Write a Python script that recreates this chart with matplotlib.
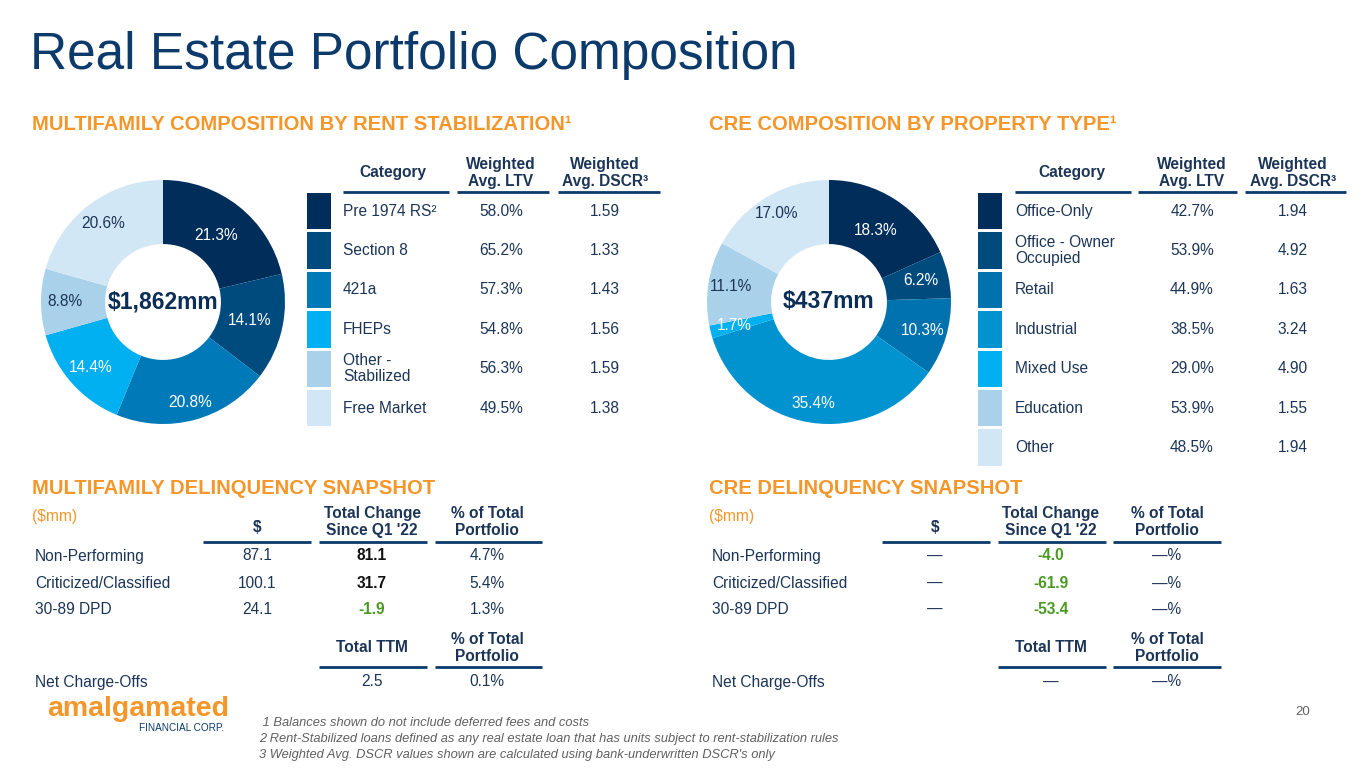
import matplotlib
matplotlib.use("Agg")
import matplotlib.pyplot as plt
from matplotlib.patches import Rectangle
import numpy as np

plt.rcParams['font.family'] = ['Liberation Sans', 'DejaVu Sans']

# ---------------- data ----------------
title = "Real Estate Portfolio Composition"

mf_categories = ["Pre 1974 RS\u00b2", "Section 8", "421a", "FHEPs", "Other -\nStabilized", "Free Market"]
mf_share = [21.3, 14.1, 20.8, 14.4, 8.8, 20.6]
mf_ltv = ["58.0%", "65.2%", "57.3%", "54.8%", "56.3%", "49.5%"]
mf_dscr = ["1.59", "1.33", "1.43", "1.56", "1.59", "1.38"]
mf_total = "$1,862mm"

cre_categories = ["Office-Only", "Office - Owner\nOccupied", "Retail", "Industrial", "Mixed Use", "Education", "Other"]
cre_share = [18.3, 6.2, 10.3, 35.4, 1.7, 11.1, 17.0]
cre_ltv = ["42.7%", "53.9%", "44.9%", "38.5%", "29.0%", "53.9%", "48.5%"]
cre_dscr = ["1.94", "4.92", "1.63", "3.24", "4.90", "1.55", "1.94"]
cre_total = "$437mm"

delinq_rows = ["Non-Performing", "Criticized/Classified", "30-89 DPD"]
mf_delinq_amt = ["87.1", "100.1", "24.1"]
mf_delinq_chg = [81.1, 31.7, -1.9]
mf_delinq_pct = ["4.7%", "5.4%", "1.3%"]
mf_nco_ttm = "2.5"
mf_nco_pct = "0.1%"

cre_delinq_amt = ["\u2014", "\u2014", "\u2014"]
cre_delinq_chg = [-4.0, -61.9, -53.4]
cre_delinq_pct = ["\u2014%", "\u2014%", "\u2014%"]
cre_nco_ttm = "\u2014"
cre_nco_pct = "\u2014%"

footnotes = [" 1 Balances shown do not include deferred fees and costs",
             "2 Rent-Stabilized loans defined as any real estate loan that has units subject to rent-stabilization rules",
             "3 Weighted Avg. DSCR values shown are calculated using bank-underwritten DSCR's only"]
page_number = "20"

# ---------------- styles ----------------
W, H = 1365, 768
NAVY = "#0B3A6B"
TXT = "#1C3557"
ORANGE = "#F5962A"
GREEN = "#4A9A22"
GRAY = "#606060"
mf_colors = ["#002D5A", "#004B7E", "#0079B8", "#00B0F0", "#A9D2EA", "#D2E7F5"]
cre_colors = ["#002D5A", "#004B7E", "#0073AF", "#0093CF", "#00B0F0", "#A9D2EA", "#D2E7F5"]
mf_label_r = [0.70, 0.73, 0.85, 0.80, 0.80, 0.81]
cre_label_r = [0.70, 0.77, 0.80, 0.84, 0.80, 0.81, 0.84]
mf_label_dark = [False, False, False, False, True, True]
cre_label_dark = [False, False, False, False, False, True, True]

fig = plt.figure(figsize=(W / 100, H / 100), dpi=100)
ax = fig.add_axes([0, 0, 1, 1])
ax.set_xlim(0, W)
ax.set_ylim(H, 0)
ax.axis("off")


def txt(x, y, s, size=11.2, color=TXT, weight="normal", ha="left", va="center", style="normal", ls=1.1):
    ax.text(x, y, s, fontsize=size, color=color, fontweight=weight, ha=ha, va=va,
            fontstyle=style, linespacing=ls)


def uline(x0, x1, y):
    ax.plot([x0, x1], [y, y], color="#0B3A6B", lw=2.0, solid_capstyle="butt")


# title
txt(30, 56, title, size=37, color=NAVY)

# section headers
HS = 14.6
txt(32, 125, "MULTIFAMILY COMPOSITION BY RENT STABILIZATION\u00b9", size=HS, color=ORANGE, weight="bold")
txt(709, 125, "CRE COMPOSITION BY PROPERTY TYPE\u00b9", size=HS, color=ORANGE, weight="bold")
txt(32, 488, "MULTIFAMILY DELINQUENCY SNAPSHOT", size=HS, color=ORANGE, weight="bold")
txt(709, 488, "CRE DELINQUENCY SNAPSHOT", size=HS, color=ORANGE, weight="bold")


def donut(cx, cy, r, values, colors, labels_r, dark, total):
    pax = fig.add_axes([(cx - r) / W, (H - cy - r) / H, 2 * r / W, 2 * r / H])
    wedges, _ = pax.pie(values, colors=colors, startangle=90, counterclock=False, radius=1.0,
                        wedgeprops=dict(width=0.525, edgecolor="none"))
    pax.set_xlim(-1, 1)
    pax.set_ylim(-1, 1)
    pax.set_aspect("equal")
    pax.axis("off")
    for w, v, lr, dk in zip(wedges, values, labels_r, dark):
        ang = np.deg2rad((w.theta1 + w.theta2) / 2)
        pax.text(lr * np.cos(ang), lr * np.sin(ang), f"{v:.1f}%", ha="center", va="center",
                 fontsize=11.2, color=TXT if dk else "white", clip_on=False)
    pax.text(0, 0, total, ha="center", va="center", fontsize=16.5, fontweight="bold", color="#0B2E57")


donut(163, 302, 122, mf_share, mf_colors, mf_label_r, mf_label_dark, mf_total)
donut(829, 302, 122, cre_share, cre_colors, cre_label_r, cre_label_dark, cre_total)


def comp_table(sw_x, cat_x, ltv_x, dscr_x, cat_c, lines, cats, ltv, dscr, colors):
    top, rh = 193, 39.4
    txt(cat_c, 173, "Category", weight="bold", ha="center", color=TXT)
    txt(ltv_x, 173, "Weighted\nAvg. LTV", weight="bold", ha="center", color=TXT)
    txt(dscr_x, 173, "Weighted\nAvg. DSCR\u00b3", weight="bold", ha="center", color=TXT)
    for (a, b) in lines:
        uline(a, b, 192)
    for i, (c, l, d, col) in enumerate(zip(cats, ltv, dscr, colors)):
        y0 = top + i * rh
        ax.add_patch(Rectangle((sw_x, y0), 24, rh - 3, facecolor=col, edgecolor="none"))
        yc = y0 + (rh - 3) / 2
        txt(cat_x, yc, c)
        txt(ltv_x, yc, l, ha="center")
        txt(dscr_x, yc, d, ha="center")


comp_table(307, 343, 501, 605, 393, [(343, 449), (457, 549), (558, 660)],
           mf_categories, mf_ltv, mf_dscr, mf_colors)
comp_table(978, 1015, 1192, 1293, 1072, [(1015, 1131), (1138, 1237), (1245, 1346)],
           cre_categories, cre_ltv, cre_dscr, cre_colors)


def delinq_table(x0, c1, c2, c3, lines, amt, chg, pct, nco, ncop):
    txt(x0 - 3, 517, "($mm)", color=ORANGE)
    txt(c1, 527, "$", weight="bold", ha="center")
    txt(c2, 522, "Total Change\nSince Q1 '22", weight="bold", ha="center")
    txt(c3, 522, "% of Total\nPortfolio", weight="bold", ha="center")
    for (a, b) in lines:
        uline(a, b, 542)
    ys = [556, 583, 609]
    for lab, a, c, p, y in zip(delinq_rows, amt, chg, pct, ys):
        txt(x0, y, lab)
        txt(c1, y, a, ha="center")
        txt(c2, y, f"{c:.1f}", ha="center", weight="bold", color=GREEN if c < 0 else "#111111")
        txt(c3, y, p, ha="center")
    txt(c2, 648, "Total TTM", weight="bold", ha="center")
    txt(c3, 648, "% of Total\nPortfolio", weight="bold", ha="center")
    for (a, b) in lines[1:]:
        uline(a, b, 667)
    txt(x0, 682, "Net Charge-Offs")
    txt(c2, 682, nco, ha="center")
    txt(c3, 682, ncop, ha="center")


delinq_table(35, 257, 372, 487, [(203, 311), (319, 427), (435, 542)],
             mf_delinq_amt, mf_delinq_chg, mf_delinq_pct, mf_nco_ttm, mf_nco_pct)
delinq_table(712, 935, 1051, 1167, [(882, 990), (998, 1106), (1113, 1221)],
             cre_delinq_amt, cre_delinq_chg, cre_delinq_pct, cre_nco_ttm, cre_nco_pct)

# logo
txt(47, 709, "amalgamated", size=20.5, color=ORANGE, weight="bold")
txt(224, 728, "FINANCIAL CORP.", size=7.2, color=NAVY, ha="right")

# footnotes
for i, f in enumerate(footnotes):
    txt(259, 723 + i * 16, f, size=9.3, color=GRAY, style="italic")
txt(1310, 712, page_number, size=9.5, color=GRAY, ha="right")

fig.savefig("out.png", dpi=100)
